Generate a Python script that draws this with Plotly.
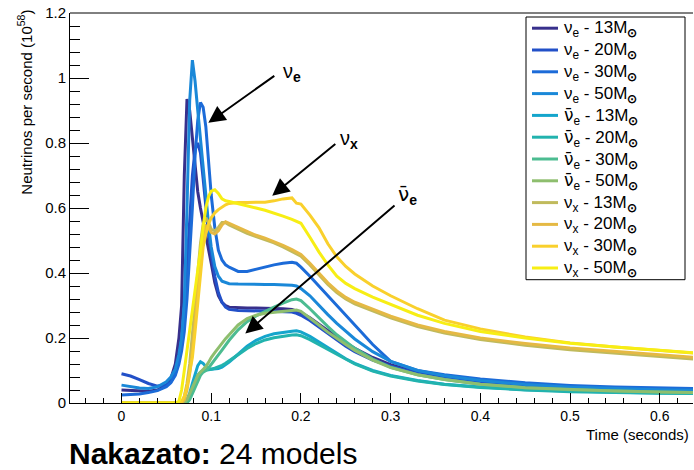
import plotly.graph_objects as go

# Time grid (seconds) shared by all curves
T = [0, 0.01, 0.02, 0.03, 0.04,
     0.05, 0.055, 0.06, 0.064, 0.067,
     0.07, 0.073, 0.076, 0.079, 0.082,
     0.085, 0.088, 0.091, 0.094, 0.097,
     0.1, 0.104, 0.108, 0.112, 0.116,
     0.12, 0.13, 0.14, 0.15, 0.16,
     0.17, 0.18, 0.19, 0.195, 0.2,
     0.21, 0.22, 0.23, 0.24, 0.25,
     0.26, 0.28, 0.3, 0.33, 0.36,
     0.4, 0.45, 0.5, 0.55, 0.6,
     0.65]

NUE_13 = [0.04, 0.038, 0.036, 0.036, 0.04,
          0.055, 0.075, 0.12, 0.2, 0.3,
          0.7, 0.935, 0.9, 0.82, 0.73,
          0.65, 0.6, 0.56, 0.52, 0.48,
          0.43, 0.37, 0.33, 0.31, 0.3,
          0.295, 0.293, 0.292, 0.292, 0.292,
          0.291, 0.29, 0.288, 0.284, 0.278,
          0.262, 0.242, 0.222, 0.203, 0.185,
          0.168, 0.14, 0.118, 0.095, 0.08,
          0.066, 0.055, 0.047, 0.042, 0.039,
          0.037]
NUE_20 = [0.09, 0.083, 0.072, 0.06, 0.052,
          0.055, 0.065, 0.09, 0.13, 0.2,
          0.3, 0.42, 0.56, 0.7, 0.78,
          0.8, 0.77, 0.69, 0.6, 0.52,
          0.46, 0.39, 0.34, 0.31, 0.295,
          0.288, 0.285, 0.284, 0.284, 0.284,
          0.283, 0.282, 0.28, 0.276, 0.27,
          0.254, 0.234, 0.213, 0.193, 0.175,
          0.158, 0.132, 0.113, 0.092, 0.077,
          0.063, 0.052, 0.045, 0.04, 0.037,
          0.035]
NUE_30 = [0.025, 0.026, 0.028, 0.032, 0.038,
          0.05, 0.062, 0.085, 0.12, 0.16,
          0.22, 0.32, 0.45, 0.6, 0.76,
          0.87, 0.925, 0.91, 0.85, 0.74,
          0.64, 0.54, 0.47, 0.44, 0.425,
          0.418, 0.405, 0.405, 0.412, 0.42,
          0.425, 0.43, 0.433, 0.43, 0.418,
          0.39, 0.36, 0.33, 0.3, 0.27,
          0.24, 0.18, 0.128, 0.1, 0.087,
          0.074, 0.062, 0.054, 0.049, 0.046,
          0.044]
NUE_50 = [0.055, 0.05, 0.046, 0.045, 0.05,
          0.065, 0.08, 0.105, 0.15, 0.2,
          0.31, 0.6, 0.93, 1.055, 0.99,
          0.9, 0.82, 0.74, 0.64, 0.55,
          0.48, 0.42, 0.39, 0.375, 0.37,
          0.367, 0.366, 0.365, 0.365, 0.365,
          0.365, 0.364, 0.362, 0.36, 0.352,
          0.33, 0.3, 0.272, 0.245, 0.22,
          0.197, 0.158, 0.128, 0.1, 0.084,
          0.069, 0.057, 0.049, 0.044, 0.041,
          0.039]
ANUE_13 = [0, 0, 0, 0, 0,
           0, 0, 0, 0, 0,
           0.0, 0.01, 0.03, 0.06, 0.09,
           0.115, 0.127, 0.122, 0.112, 0.106,
           0.104, 0.104, 0.106, 0.11, 0.117,
           0.126, 0.15, 0.175, 0.193, 0.205,
           0.213, 0.218, 0.221, 0.222, 0.219,
           0.205, 0.188, 0.17, 0.152, 0.136,
           0.122, 0.1, 0.085, 0.069, 0.058,
           0.049, 0.041, 0.036, 0.033, 0.031,
           0.03]
ANUE_20 = [0, 0, 0, 0, 0,
           0, 0, 0, 0, 0,
           0, 0.005, 0.02, 0.04, 0.065,
           0.085, 0.095, 0.1, 0.101, 0.102,
           0.104, 0.107, 0.111, 0.116, 0.122,
           0.13, 0.148, 0.168, 0.183, 0.194,
           0.201, 0.206, 0.209, 0.21, 0.207,
           0.195, 0.18, 0.164, 0.148, 0.133,
           0.12, 0.098, 0.083, 0.068, 0.057,
           0.048, 0.04, 0.035, 0.032, 0.03,
           0.029]
ANUE_30 = [0, 0, 0, 0, 0,
           0, 0, 0, 0, 0,
           0, 0, 0.01, 0.03, 0.05,
           0.07, 0.085, 0.095, 0.1, 0.108,
           0.118, 0.133, 0.148, 0.163, 0.178,
           0.193, 0.225, 0.25, 0.268, 0.282,
           0.295, 0.307, 0.318, 0.32, 0.315,
           0.29, 0.262, 0.235, 0.21, 0.188,
           0.168, 0.135, 0.11, 0.087, 0.072,
           0.058, 0.047, 0.041, 0.037, 0.034,
           0.032]
ANUE_50 = [0, 0, 0, 0, 0,
           0, 0, 0, 0, 0,
           0, 0.01, 0.03, 0.05, 0.07,
           0.085, 0.095, 0.103, 0.112, 0.125,
           0.14, 0.155, 0.17, 0.185, 0.198,
           0.21, 0.24, 0.26, 0.27, 0.276,
           0.279, 0.282, 0.285, 0.286, 0.282,
           0.262, 0.24, 0.218, 0.198, 0.18,
           0.162, 0.132, 0.109, 0.087, 0.072,
           0.058, 0.047, 0.041, 0.037, 0.034,
           0.032]
NUX_13 = [0, 0, 0, 0, 0,
          0, 0, 0, 0, 0,
          0.02, 0.06, 0.12, 0.2, 0.3,
          0.4, 0.49, 0.55, 0.57, 0.555,
          0.535, 0.53, 0.54, 0.555, 0.555,
          0.548, 0.535, 0.522, 0.512, 0.503,
          0.493, 0.48, 0.467, 0.46, 0.452,
          0.425, 0.395, 0.365, 0.34, 0.32,
          0.305, 0.283, 0.262, 0.235, 0.215,
          0.195, 0.178, 0.164, 0.153, 0.143,
          0.133]
NUX_20 = [0, 0, 0, 0, 0,
          0, 0, 0, 0, 0,
          0.01, 0.04, 0.09, 0.16, 0.25,
          0.35, 0.44, 0.51, 0.545, 0.54,
          0.525, 0.52, 0.53, 0.548, 0.558,
          0.553, 0.54, 0.527, 0.516, 0.507,
          0.497, 0.485, 0.472, 0.465, 0.457,
          0.43, 0.4, 0.37, 0.345, 0.325,
          0.31, 0.288, 0.267, 0.24, 0.22,
          0.2, 0.183, 0.169, 0.158, 0.148,
          0.138]
NUX_30 = [0, 0, 0, 0, 0,
          0, 0, 0, 0, 0.005,
          0.02, 0.05, 0.09, 0.14, 0.22,
          0.31, 0.41, 0.48, 0.52, 0.55,
          0.57, 0.585, 0.595, 0.603, 0.61,
          0.614, 0.617, 0.617, 0.617, 0.618,
          0.622, 0.628, 0.631, 0.615, 0.612,
          0.578, 0.54, 0.49, 0.45, 0.42,
          0.397, 0.36, 0.33, 0.29, 0.255,
          0.228, 0.203, 0.185, 0.172, 0.161,
          0.151]
NUX_50 = [0, 0, 0, 0, 0,
          0, 0, 0, 0.005, 0.04,
          0.1, 0.16, 0.22, 0.28, 0.34,
          0.4, 0.47, 0.54, 0.6, 0.635,
          0.652, 0.656, 0.645, 0.628, 0.622,
          0.62, 0.614, 0.607, 0.6, 0.593,
          0.585, 0.575, 0.565, 0.56, 0.553,
          0.51, 0.465, 0.425, 0.39, 0.368,
          0.352, 0.326, 0.303, 0.27, 0.245,
          0.22, 0.2, 0.184, 0.172, 0.162,
          0.152]

SERIES = [NUE_13, NUE_20, NUE_30, NUE_50,
          ANUE_13, ANUE_20, ANUE_30, ANUE_50,
          NUX_13, NUX_20, NUX_30, NUX_50]
BAR_NU = '<span style="font-family:DejaVu Sans">ν̄</span>'
FLAVOURS = ["ν"] * 4 + [BAR_NU] * 4 + ["ν"] * 4
SUBS = ["e"] * 8 + ["x"] * 4
MASSES = ["13", "20", "30", "50"] * 3
NAMES = [f"{f}<sub>{s}</sub> - {m}M<sub><b>⊙</b></sub>"
         for f, s, m in zip(FLAVOURS, SUBS, MASSES)]
COLORS = ["#38308c", "#2250c8", "#1c6bd8", "#1a88d8",
          "#14a5cc", "#22b3ae", "#4cbc91", "#8ebe6e",
          "#c0ba5c", "#e5b944", "#f9d02c", "#f7ee14"]

FONT = "Liberation Sans, Arial, Helvetica, sans-serif"

W, H = 694, 470
ML, MR, MT, MB = 70, 1, 13.3, 66.7
PW, PH = W - ML - MR, H - MT - MB


def px(xp):
    return (xp - ML) / PW


def py(yp):
    return (H - MB - yp) / PH


fig = go.Figure()
for ys, name, col in zip(SERIES, NAMES, COLORS):
    fig.add_trace(go.Scatter(x=T, y=ys, mode="lines", name=name,
                             line=dict(color=col, width=3)))

fig.update_layout(
    width=W, height=H,
    margin=dict(l=ML, r=MR, t=MT, b=MB),
    paper_bgcolor="white", plot_bgcolor="white",
    font=dict(family=FONT, color="black"),
    showlegend=False,
)
fig.update_xaxes(range=[-0.0574, 0.637], tick0=0, dtick=0.1,
                 ticks="inside", ticklen=10, tickcolor="black", tickwidth=1,
                 showline=True, linecolor="black", linewidth=1,
                 showgrid=False, zeroline=False,
                 tickfont=dict(size=14, family=FONT),
                 minor=dict(tick0=0, dtick=0.02, ticks="inside", ticklen=5,
                            tickcolor="black", showgrid=False))
fig.update_yaxes(range=[0, 1.2], tick0=0, dtick=0.2,
                 ticks="inside", ticklen=19, tickcolor="black", tickwidth=1,
                 showline=True, linecolor="black", linewidth=1,
                 showgrid=False, zeroline=False,
                 tickfont=dict(size=15, family=FONT),
                 minor=dict(tick0=0, dtick=0.04, ticks="inside", ticklen=10,
                            tickcolor="black", showgrid=False))

# top frame line
fig.add_shape(type="line", xref="paper", yref="paper", x0=0, x1=1, y0=1, y1=1,
              line=dict(color="black", width=1))

# legend box (drawn by hand to match the ROOT legend)
LEG_X0, LEG_X1, LEG_Y0, LEG_Y1 = 526, 685, 17.3, 280
ROW0, ROWSTEP = 28.5, 21.8
fig.add_shape(type="rect", xref="paper", yref="paper",
              x0=px(LEG_X0), x1=px(LEG_X1), y0=py(LEG_Y1), y1=py(LEG_Y0),
              line=dict(color="black", width=1), fillcolor="white", layer="above")
for i, (name, col) in enumerate(zip(NAMES, COLORS)):
    yc = ROW0 + i * ROWSTEP
    fig.add_shape(type="line", xref="paper", yref="paper",
                  x0=px(532), x1=px(558), y0=py(yc), y1=py(yc),
                  line=dict(color=col, width=3), layer="above")
    fig.add_annotation(x=px(562), y=py(yc + 1), xref="paper", yref="paper",
                       text=name, showarrow=False, xanchor="left",
                       yanchor="middle", font=dict(size=17, family=FONT))

# arrows
ARROWS = [((0.0968, 0.862), (0.172, 1.01)),
          ((0.168, 0.638), (0.24, 0.801)),
          ((0.138, 0.214), (0.306, 0.612))]
for (tx, ty), (sx, sy) in ARROWS:
    fig.add_annotation(x=tx, y=ty, ax=sx, ay=sy, xref="x", yref="y",
                       axref="x", ayref="y", text="", showarrow=True,
                       arrowhead=2, arrowsize=1.7, arrowwidth=2,
                       arrowcolor="black")

LABELS = [("ν<sub><b>e</b></sub>", 0.1774, 1.016),
          ("ν<sub><b>x</b></sub>", 0.2418, 0.811),
          (BAR_NU + "<sub><b>e</b></sub>", 0.306, 0.64)]
for txt, lx, ly in LABELS:
    fig.add_annotation(x=lx, y=ly, xref="x", yref="y", text=txt,
                       showarrow=False, xanchor="left", yanchor="middle",
                       font=dict(size=20, family=FONT, color="black"))

fig.add_annotation(x=px(25), y=py(103), xref="paper", yref="paper",
                   text="Neutrinos per second (10<sup>58</sup>)", textangle=-90,
                   showarrow=False, xanchor="center", yanchor="middle",
                   font=dict(size=15, family=FONT))
fig.add_annotation(x=px(691), y=py(435), xref="paper", yref="paper",
                   text="Time (seconds)", showarrow=False,
                   xanchor="right", yanchor="middle",
                   font=dict(size=15, family=FONT))
fig.add_annotation(x=px(67), y=py(454), xref="paper", yref="paper",
                   text="<b>Nakazato:</b> 24 models", showarrow=False,
                   xanchor="left", yanchor="middle",
                   font=dict(size=30, family=FONT))

fig.write_html("out.html",
               config={"displayModeBar": False},
               post_script="document.body.style.margin='0px';"
                           "document.body.style.overflow='hidden';")
